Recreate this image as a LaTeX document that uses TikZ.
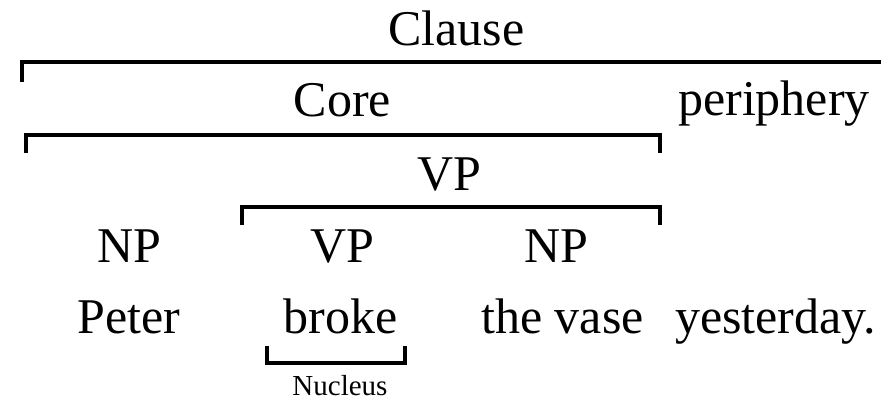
\documentclass[tikz,border=0pt]{standalone}
\usepackage{fontspec}
\setmainfont{Liberation Serif}
\begin{document}
\begin{tikzpicture}[x=1pt,y=-1pt,
  lbl/.style={anchor=base,inner sep=0pt,font=\fontsize{50}{58}\selectfont},
  small/.style={anchor=base,inner sep=0pt,font=\fontsize{29}{34}\selectfont},
  bracket/.style={line width=4pt,line join=miter}]
\useasboundingbox (0,0) rectangle (881,402);
% labels
\node[lbl] (clause) at (456.5,45) {Clause};
\node[lbl] (core) at (342.5,116) {Core};
\node[lbl] (periph) at (774,115) {periphery};
\node[lbl] (vptop) at (449,190) {VP};
\node[lbl] (np1) at (129,262) {NP};
\node[lbl] (vp) at (342.5,262) {VP};
\node[lbl] (np2) at (556.5,262) {NP};
\node[lbl] (peter) at (129,333) {Peter};
\node[lbl] (broke) at (340.5,333) {broke};
\node[lbl] (vase) at (562.5,333) {the vase};
\node[lbl] (yest) at (775.5,333) {yesterday.};
\node[small] (nucleus) at (340,395) {Nucleus};
% brackets
\draw[bracket] (22,82) -- (22,62) -- (885,62);
\draw[bracket] (26,153) -- (26,135) -- (660,135) -- (660,153);
\draw[bracket] (242,225) -- (242,207) -- (660,207) -- (660,225);
\draw[bracket] (267,346) -- (267,363) -- (405,363) -- (405,346);
\end{tikzpicture}
\end{document}
